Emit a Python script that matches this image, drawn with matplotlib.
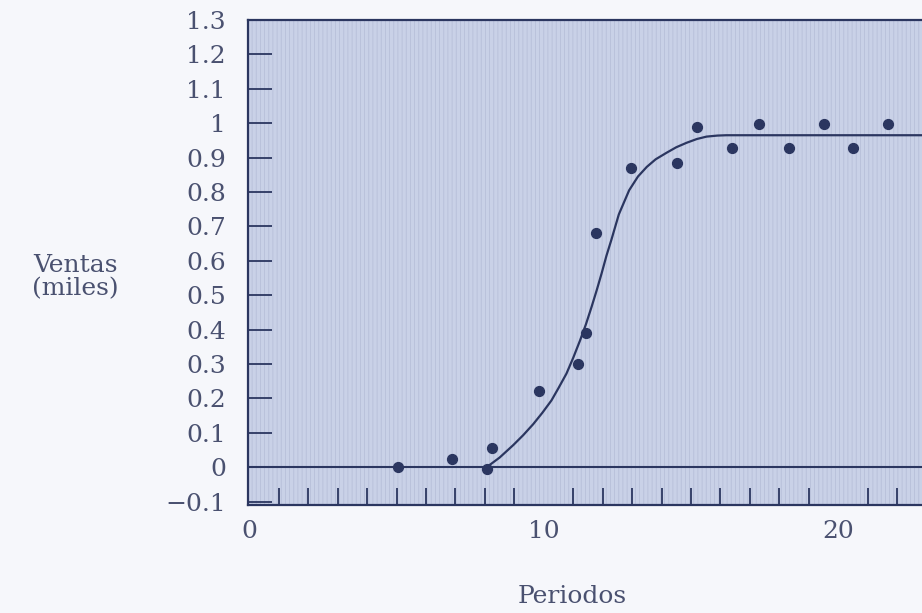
import matplotlib
matplotlib.use('Agg')
from matplotlib import pyplot as plt
from matplotlib.patches import Rectangle
import numpy as np

# datos
periodos = [5.05, 6.87, 8.06, 8.23, 9.84, 11.17, 11.43, 11.77, 12.95, 14.53,
            15.19, 16.41, 17.32, 18.34, 19.52, 20.49, 21.70]
ventas = [0.0, 0.023, -0.004, 0.056, 0.22, 0.30, 0.39, 0.68, 0.87, 0.885,
          0.988, 0.927, 0.998, 0.927, 0.998, 0.927, 0.998]

# curva ajustada (puntos leidos sobre la linea)
curva_x = [8.06, 8.5, 8.96, 9.3, 9.64, 9.95, 10.26, 10.5, 10.77, 11.0, 11.23,
           11.43, 11.62, 11.8, 11.96, 12.13, 12.3, 12.55, 12.9, 13.2, 13.5,
           13.8, 14.17, 14.5, 14.85, 15.2, 15.53, 15.9, 16.2, 22.9]
curva_y = [0.0, 0.028, 0.064, 0.093, 0.125, 0.158, 0.194, 0.23, 0.272, 0.318,
           0.368, 0.415, 0.465, 0.515, 0.562, 0.615, 0.662, 0.735, 0.805,
           0.845, 0.873, 0.895, 0.914, 0.93, 0.943, 0.954, 0.961, 0.964,
           0.965, 0.965]

xtick_labels = ['0', '10', '20']
ytick_vals = [-0.1, 0, 0.1, 0.2, 0.3, 0.4, 0.5, 0.6, 0.7, 0.8, 0.9, 1, 1.1, 1.2, 1.3]
ytick_labels = ['\u22120.1', '0', '0.1', '0.2', '0.3', '0.4', '0.5', '0.6',
                '0.7', '0.8', '0.9', '1', '1.1', '1.2', '1.3']

ink = '#2b3660'
txt = '#4a5170'

plt.rcParams['font.family'] = 'DejaVu Serif'
plt.rcParams['hatch.linewidth'] = 0.6

fig = plt.figure(figsize=(9.22, 6.13), dpi=100)
fig.patch.set_facecolor('#f6f7fb')
ax = fig.add_axes([248 / 922, 1 - 505 / 613, 674 / 922 + 0.01, 485 / 613])
ax.set_facecolor('#c9d1e7')
ax.add_patch(Rectangle((0, 0), 1, 1, transform=ax.transAxes, facecolor='none',
                       edgecolor='#b7bfd9', hatch='||||', linewidth=0, zorder=0))

ax.axhline(0, color=ink, lw=1.5, zorder=2)
ax.plot(curva_x, curva_y, color=ink, lw=1.6, zorder=3)
ax.scatter(periodos, ventas, s=50, color=ink, zorder=4)

ax.set_xlim(-0.05, 22.85 + 0.01 * 922 / 29.43)
ax.set_ylim(-0.11, 1.296)

ax.set_xticks(range(1, 23), minor=True)
ax.set_xticks([0, 10, 20])
ax.set_xticklabels(xtick_labels)
ax.set_yticks(ytick_vals)
ax.set_yticklabels(ytick_labels)

ax.tick_params(axis='x', which='both', direction='in', length=12, width=1.3,
               color=ink, labelsize=18, labelcolor=txt, pad=11)
ax.tick_params(axis='x', which='major', length=0)
ax.tick_params(axis='y', direction='in', length=17, width=1.3, color=ink,
               labelsize=18, labelcolor=txt, pad=16)

for side in ['left', 'bottom', 'top']:
    ax.spines[side].set_color(ink)
    ax.spines[side].set_linewidth(1.6)
ax.spines['right'].set_visible(False)

ax.set_xlabel('Periodos', fontsize=18, color=txt)
ax.xaxis.set_label_coords((573 - 248) / 684, -0.165)
ax.set_ylabel('Ventas\n(miles)', fontsize=18, color=txt, rotation=0,
              ha='center', va='center', linespacing=1.0)
ax.yaxis.set_label_coords((75 - 248) / 684, (505 - 277) / 485)

fig.savefig('out.png', dpi=100, facecolor=fig.get_facecolor())
